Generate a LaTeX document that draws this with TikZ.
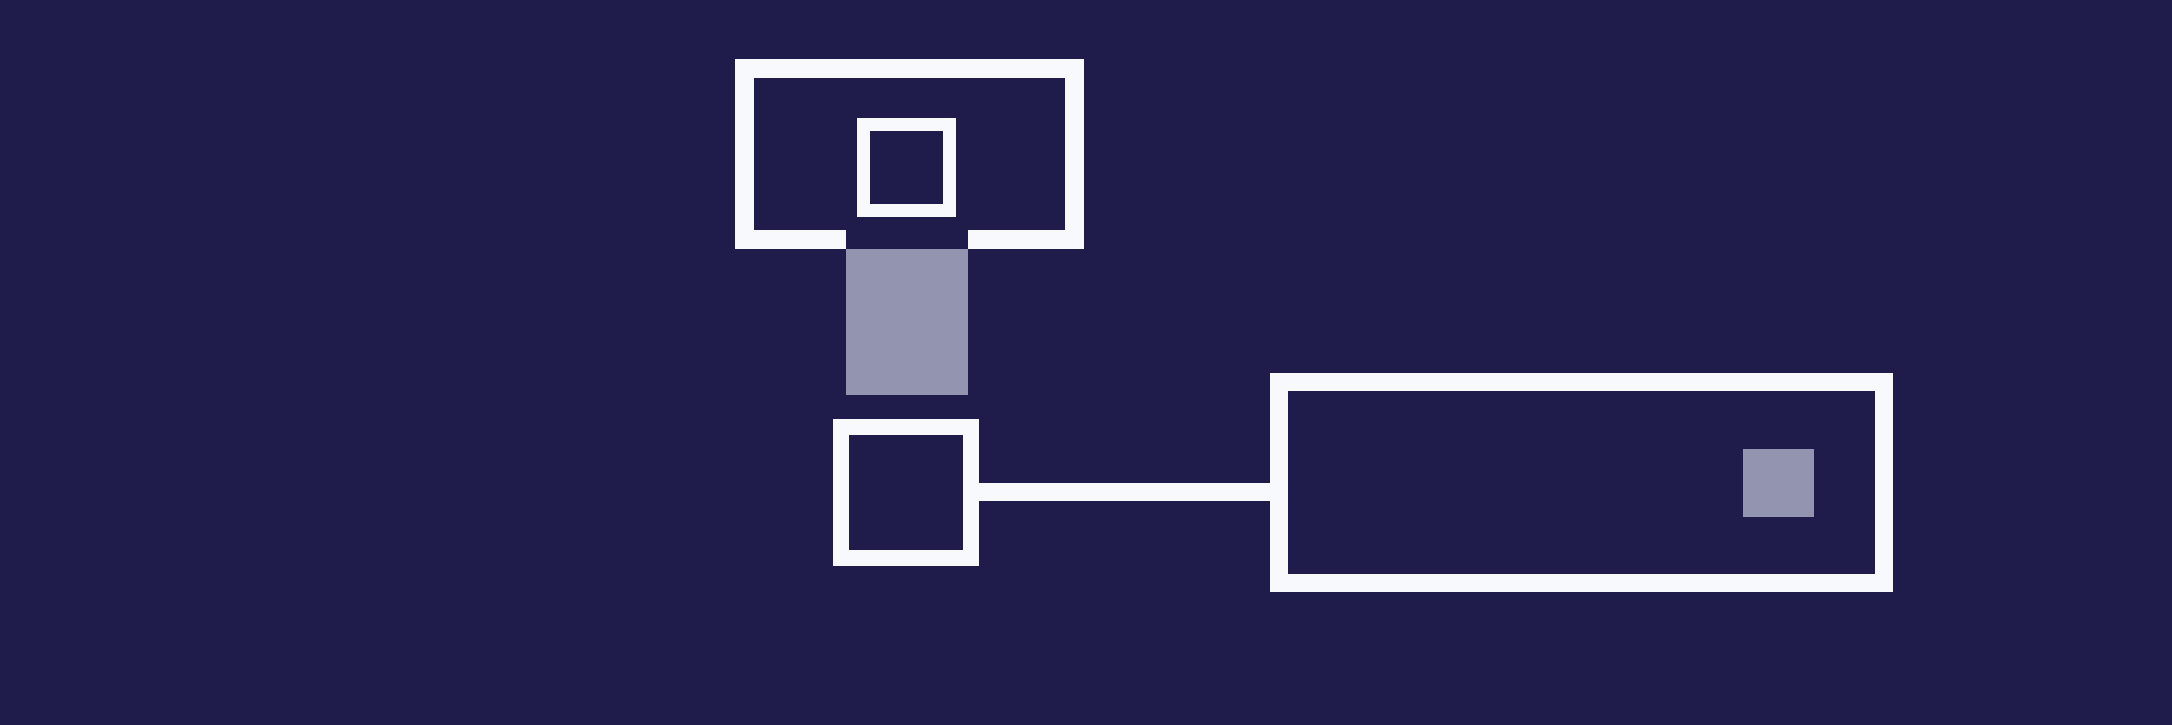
\documentclass[tikz,border=0pt]{standalone}
\usepackage{xcolor}
\definecolor{navy}{HTML}{1F1C4B}
\definecolor{paper}{HTML}{F8F9FC}
\definecolor{slate}{HTML}{9394B0}

\begin{document}
\begin{tikzpicture}[x=1pt, y=-1pt,
        frame/.style={draw=paper, line width=#1, rectangle, inner sep=0pt},
        pad/.style={fill=slate, rectangle, inner sep=0pt}]
        \useasboundingbox (0, 0) rectangle (2172, 724);
        \fill[navy] (-6, -6) rectangle (2178, 730);

        \node[rectangle, inner sep=0pt, minimum width=330pt, minimum height=171pt] (top) at (909.5, 153.95) {};
        \node[frame=12.5pt, minimum width=86pt, minimum height=86pt] (icon) at (906.5, 167.7) {};
        \node[pad, minimum width=122pt, minimum height=145.7pt] (gap) at (907, 321.9) {};
        \node[frame=16pt, minimum width=130.6pt, minimum height=130.8pt] (key) at (906, 492.4) {};
        \node[frame=18pt, minimum width=605pt, minimum height=200.7pt] (bar) at (1581, 482.7) {};
        \node[pad, minimum width=71pt, minimum height=67.7pt] (dot) at (1778.6, 482.9) {};

        \draw[paper, line width=19pt] (gap.north west |- top.south) -| (top.north west) -| (top.south east) -- (gap.north east |- top.south);

        \path[paper, line width=18pt]
            (key.east) edge (key.east -| bar.west);

        \end{tikzpicture}
\end{document}
